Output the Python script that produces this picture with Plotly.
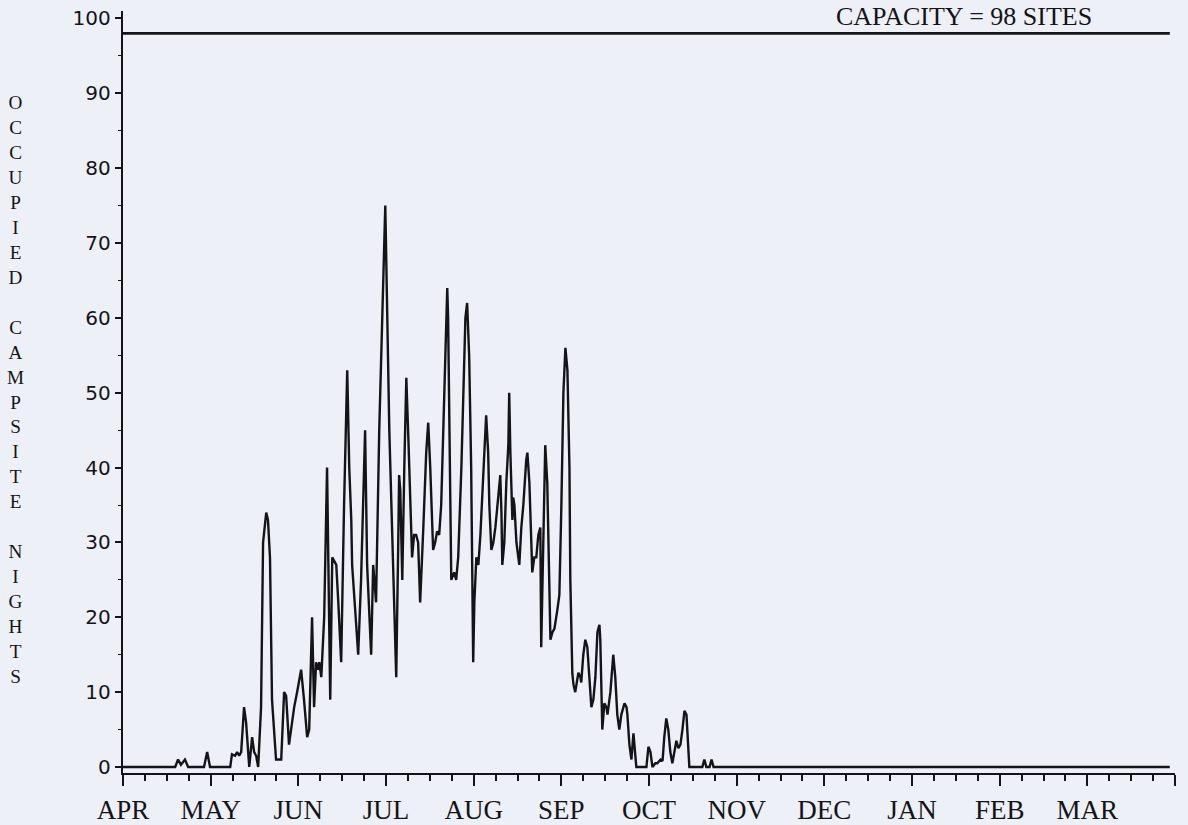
import plotly.graph_objects as go

# ---- data -------------------------------------------------------------
months = ["APR", "MAY", "JUN", "JUL", "AUG", "SEP", "OCT", "NOV", "DEC", "JAN", "FEB", "MAR"]
days_in_year = 365
capacity = 98

# day offset from 1 April and occupied campsite nights
day = [
    0, 18.1, 19.1, 20.1, 21.5, 22.6, 28.1, 29.2, 30.2, 37.2,
    37.8, 38.9, 39.6, 40.3, 41.0, 42.0, 42.7, 43.8, 44.8, 45.5,
    46.2, 46.9, 47.9, 48.6, 49.7, 50.3, 51.0, 51.7, 53.1, 54.9,
    55.9, 56.6, 57.6, 58.7, 59.4, 60.4, 61.8, 62.8, 63.9, 64.6,
    65.6, 66.3, 67.0, 67.7, 68.1, 68.8, 69.8, 70.8, 71.9, 72.6,
    74.0, 74.7, 75.7, 76.7, 77.8, 78.5, 79.2, 79.5, 80.6, 81.6,
    82.6, 84.0, 84.7, 86.1, 86.8, 87.5, 87.8, 88.9, 91.0, 92.4,
    93.8, 94.8, 95.5, 95.8, 96.2, 96.9, 97.6, 98.3, 99.0, 99.7,
    100.3, 101.0, 101.7, 102.4, 103.1, 104.2, 105.2, 105.9, 106.6, 107.6,
    108.3, 109.0, 109.7, 110.4, 111.8, 112.5, 112.8, 113.5, 113.9, 114.9,
    115.6, 116.3, 117.4, 118.8, 119.4, 120.1, 120.8, 121.5, 121.9, 122.6,
    123.3, 124.0, 125.0, 126.0, 126.7, 127.1, 127.8, 128.5, 129.2, 130.2,
    130.9, 131.3, 131.6, 132.3, 133.0, 133.7, 134.0, 134.4, 135.1, 135.4,
    135.8, 136.5, 137.5, 138.2, 138.9, 139.9, 140.3, 141.0, 141.7, 142.0,
    142.7, 143.4, 144.1, 144.8, 145.1, 145.8, 146.5, 147.2, 147.6, 148.3,
    149.0, 149.7, 150.7, 151.4, 152.1, 152.8, 153.5, 154.2, 154.9, 155.2,
    155.9, 156.3, 156.9, 157.6, 158.0, 158.7, 159.0, 159.7, 160.4, 161.1,
    161.8, 162.5, 163.2, 163.9, 164.6, 165.3, 165.6, 166.3, 167.0, 167.7,
    168.1, 169.1, 170.1, 170.8, 171.5, 172.2, 172.9, 174.0, 174.7, 175.0,
    175.7, 176.4, 177.1, 177.8, 178.1, 181.6, 182.3, 183.0, 183.7, 184.7,
    185.4, 186.5, 187.2, 187.8, 188.5, 189.2, 189.9, 190.6, 191.3, 192.0,
    192.7, 193.4, 194.1, 194.8, 195.5, 196.2, 196.5, 201.0, 201.7, 202.4,
    203.5, 204.2, 204.9, 363.2,
]
occupied = [
    0, 0, 1, 0.3, 1, 0, 0, 2, 0, 0,
    1.7, 1.5, 2, 1.5, 2, 8, 6, 0, 4, 2,
    1.5, 0, 8, 30, 34, 33, 28, 9, 1, 1,
    10, 9.5, 3, 6, 8, 10, 13, 9, 4, 5,
    20, 8, 14, 13, 14, 12, 20, 40, 9, 28,
    27, 22, 14, 35, 53, 40, 33, 27, 20, 15,
    25, 45, 27, 15, 27, 24, 22, 45, 75, 45,
    25, 12, 30, 39, 37, 25, 40, 52, 44, 35,
    28, 31, 31, 30, 22, 32, 42, 46, 40, 29,
    30, 31.5, 31, 35, 55, 64, 60, 40, 25, 26,
    25, 28, 40, 60, 62, 55, 40, 14, 22, 28,
    27, 31, 40, 47, 42, 35, 29, 30, 32, 36,
    39, 34, 27, 30, 38, 43, 50, 42, 33, 36,
    35, 30, 27, 32, 35, 41, 42, 38, 28, 26,
    28, 28, 31, 32, 16, 30, 43, 38, 30, 17,
    18, 18.5, 21, 23, 35, 50, 56, 53, 40, 25,
    12.5, 11, 10, 12, 12.6, 12, 11.3, 15, 17, 16,
    12, 8, 9, 12, 18, 19, 17, 5, 8.5, 8,
    7, 10, 15, 12, 7, 5, 7, 8.5, 8, 7,
    3, 1, 4.5, 1, 0, 0, 2.7, 2, 0, 0.5,
    0.5, 1, 0.8, 4, 6.5, 5, 2, 0.5, 2, 3.5,
    2.5, 3, 5, 7.5, 7, 1, 0, 0, 1, 0,
    0, 1, 0, 0,
]
capacity_days = [0, 363.2]

y_ticks = list(range(0, 101, 10))
y_title = "OCCUPIED CAMPSITE NIGHTS"
capacity_label = "CAPACITY = 98 SITES"

# ---- figure -----------------------------------------------------------
INK = "#141418"
BG = "#eef0f7"
month_len = days_in_year / 12

W, H = 1188, 825
L, R, T, B = 123, 13, 11, 52
plot_w = W - L - R
plot_h = H - T - B

fig = go.Figure()
fig.add_trace(go.Scatter(
    x=capacity_days, y=[capacity] * len(capacity_days), mode="lines",
    line=dict(color=INK, width=2.8), hoverinfo="skip", showlegend=False))
fig.add_trace(go.Scatter(
    x=day, y=occupied, mode="lines",
    line=dict(color=INK, width=2.4), showlegend=False))

tickvals = [i * month_len for i in range(13)]
ticktext = months + [""]

fig.update_xaxes(
    range=[0, days_in_year], tickmode="array", tickvals=tickvals, ticktext=ticktext,
    showline=True, linecolor=INK, linewidth=2.4, mirror=False,
    ticks="outside", ticklen=11, tickwidth=1.8, tickcolor=INK,
    minor=dict(tickmode="linear", tick0=0, dtick=month_len / 4, ticks="outside",
               ticklen=6, tickwidth=1.5, tickcolor=INK, showgrid=False),
    showgrid=False, zeroline=False,
    tickfont=dict(family="Liberation Serif", size=27, color=INK),
)
fig.update_yaxes(
    range=[-0.8, 101], tickmode="array", tickvals=y_ticks,
    showline=True, linecolor=INK, linewidth=2.4,
    ticks="outside", ticklen=6, tickwidth=1.5, tickcolor=INK,
    minor=dict(tickmode="linear", tick0=0, dtick=5, ticks="outside",
               ticklen=3, tickwidth=1.2, tickcolor=INK, showgrid=False),
    showgrid=False, zeroline=False,
    tickfont=dict(family="DejaVu Sans", size=20, color=INK),
)

fig.add_annotation(
    x=(964 - L) / plot_w, y=(H - B - 17) / plot_h, xref="paper", yref="paper",
    text=capacity_label, showarrow=False, xanchor="center", yanchor="middle",
    font=dict(family="Liberation Serif", size=26, color=INK))

fig.add_annotation(
    x=(15 - L) / plot_w, y=(H - B - 90) / plot_h, xref="paper", yref="paper",
    xanchor="center", yanchor="top",
    text="<br>".join(list(y_title)), showarrow=False, align="center",
    font=dict(family="Liberation Serif", size=19.2, color=INK))

fig.update_layout(
    width=W, height=H,
    margin=dict(l=L, r=R, t=T, b=B, autoexpand=False),
    paper_bgcolor=BG, plot_bgcolor=BG,
)

# remove the browser's default page margin so the figure sits at the window origin
page_js = ("document.body.style.margin='0';"
           "document.body.style.background='" + BG + "';"
           "document.body.style.overflow='hidden';")
fig.write_html("out.html", post_script=page_js, config={"displayModeBar": False})
